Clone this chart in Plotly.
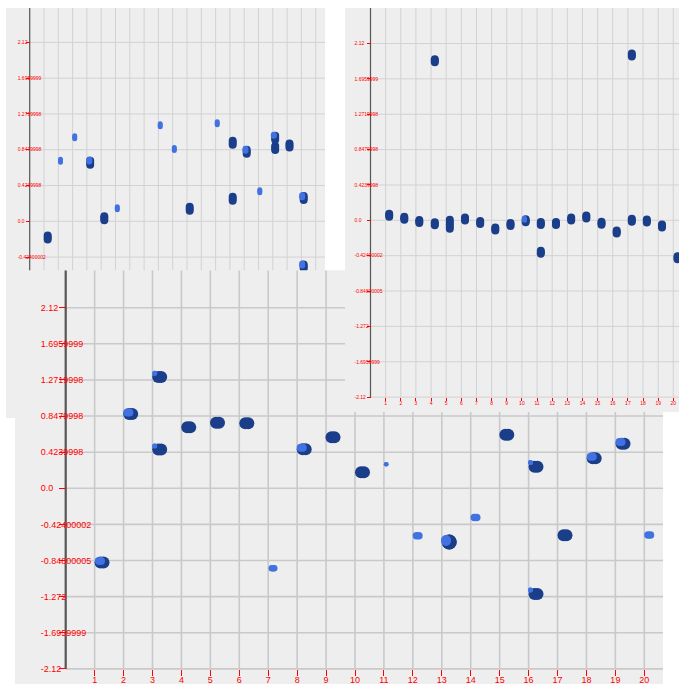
import math
import plotly.graph_objects as go

W, H = 679, 684

# ---------------- data ----------------
Y_TICK_VALUES = [-2.12, -1.6959999, -1.272, -0.84800005, -0.42400002, 0.0,
                 0.4239998, 0.8479998, 1.2719998, 1.6959999, 2.12]
Y_TICK_LABELS = ["-2.12", "-1.6959999", "-1.272", "-0.84800005", "-0.42400002", "0.0",
                 "0.4239998", "0.8479998", "1.2719998", "1.6959999", "2.12"]
X_CATEGORIES = list(range(1, 21))
X_TICK_LABELS = [str(c) for c in X_CATEGORIES]

# top-left panel
TL_DARK_X = [1.259, 4.231, 5.217, 11.189, 14.196, 14.196, 15.175, 17.168, 17.168, 18.168, 19.161, 19.161]
TL_DARK_Y = [-0.192, 0.693, 0.037, 0.148, 0.931, 0.267, 0.823, 0.989, 0.868, 0.898, 0.276, -0.536]
TL_LIGHT_X = [2.154, 3.147, 4.168, 6.126, 9.126, 10.112, 13.112, 15.09, 16.091, 17.07, 19.056, 19.056]
TL_LIGHT_Y = [0.718, 0.996, 0.720, 0.154, 1.139, 0.857, 1.162, 0.847, 0.355, 1.019, 0.296, -0.512]

# top-right panel
TR_DARK_X = [1.235, 2.232, 3.223, 4.247, 4.247, 5.238, 6.242, 7.245, 8.243, 9.247, 10.251, 11.249,
             11.249, 12.252, 13.256, 14.254, 15.258, 16.261, 17.259, 17.259, 18.25, 19.254, 20.28]
TR_DARK_Y = [0.060, 0.024, -0.014, 1.912, -0.041, -0.047, 0.016, -0.026, -0.104, -0.050, -0.005, -0.038,
             -0.382, -0.038, 0.016, 0.040, -0.036, -0.140, 1.982, 0.0, -0.008, -0.068, -0.448]
TR_LIGHT_X = [10.172]
TR_LIGHT_Y = [0.012]

# bottom panel
B_DARK_X = [1.255, 2.247, 3.249, 3.249, 4.252, 5.247, 6.26, 8.244, 9.239, 10.259, 13.256,
            15.247, 16.256, 16.256, 17.259, 18.268, 19.264]
B_DARK_Y = [-0.871, 0.872, 1.306, 0.455, 0.717, 0.769, 0.764, 0.458, 0.600, 0.188, -0.630,
            0.629, 0.254, -1.241, -0.550, 0.352, 0.523]
B_LIGHT_X = [1.186, 2.164, 3.076, 3.076, 7.166, 8.158, 11.078, 12.167, 13.146, 14.165,
             16.066, 16.066, 18.182, 19.177, 20.17]
B_LIGHT_Y = [-0.853, 0.890, 1.350, 0.496, -0.939, 0.475, 0.282, -0.558, -0.613, -0.343,
             0.303, -1.194, 0.370, 0.543, -0.548]

# ---------------- styles: blob sizes in px (width, height) ----------------
TL_DARK_WH = [(8, 12)] * len(TL_DARK_X)
TL_LIGHT_WH = [(5, 8), (5, 8), (6, 8), (5, 8), (5, 8), (5, 8), (5, 8), (6, 8), (5, 8), (6, 7), (6, 8), (6, 8)]
TR_DARK_WH = [(8, 11)] * len(TR_DARK_X)
TR_DARK_WH[5] = (8, 17)
TR_LIGHT_WH = [(5, 7)]
B_DARK_WH = [(15, 12)] * len(B_DARK_X)
B_DARK_WH[10] = (15, 15)
B_LIGHT_WH = [(10, 8), (10, 8), (5, 5), (5, 5), (9, 6.5), (10, 8), (5, 4.5), (10, 7.5), (10, 11),
              (10, 7.5), (5, 5), (5, 5), (10, 8), (10, 8), (10, 7.5)]

DARK = "#1a3e8a"
LIGHT = "#4272e2"
BG = "#eeeeee"
FONT = "Liberation Sans, Arial, sans-serif"

# ---------------- panel geometry (page pixels) ----------------
PANELS = [
    dict(name="", left=6, right=325, top=8, bottom=418, x0=29.7, sx=14.3, y0=221.3, sy=84.4,
         grid="#d2d2d2", gw=1, axw=1.2, font=5, ticklen=4, standoff=-16, xlab=False, xstand=-2,
         dark=(TL_DARK_X, TL_DARK_Y, TL_DARK_WH), light=(TL_LIGHT_X, TL_LIGHT_Y, TL_LIGHT_WH)),
    dict(name="2", left=15, right=663, top=270.5, bottom=684, x0=65.7, sx=28.93, y0=488.3, sy=85.2,
         grid="#c9c9c9", gw=1.6, axw=2.2, font=9, ticklen=7, standoff=-29, xlab=True, xstand=-4,
         dark=(B_DARK_X, B_DARK_Y, B_DARK_WH), light=(B_LIGHT_X, B_LIGHT_Y, B_LIGHT_WH)),
    dict(name="3", left=345, right=679, top=8, bottom=412, x0=370.5, sx=15.14, y0=220.3, sy=83.4,
         grid="#d2d2d2", gw=1, axw=1.2, font=5, ticklen=4, standoff=-20, xlab=True, xstand=-2,
         dark=(TR_DARK_X, TR_DARK_Y, TR_DARK_WH), light=(TR_LIGHT_X, TR_LIGHT_Y, TR_LIGHT_WH)),
]


def fx(px):  # page px -> paper fraction (x)
    return min(1.0, max(0.0, px / W))


def fy(py):  # page px -> paper fraction (y)
    return min(1.0, max(0.0, 1 - py / H))


fig = go.Figure()
shapes = []
layout = {}


def pill_trace(xs, ys, whs, color, p, xr, yr):
    """Each blob is a rounded pill made of a few overlapping circles."""
    px_, py_, sz = [], [], []
    for x, y, (w, h) in zip(xs, ys, whs):
        d = min(w, h)
        span = abs(w - h)
        k = max(2, int(math.ceil(span / (d * 0.35))) + 1)
        for i in range(k):
            t = (i / (k - 1) - 0.5) * span
            if w >= h:
                px_.append(x + t / p["sx"]); py_.append(y)
            else:
                px_.append(x); py_.append(y - t / p["sy"])
            sz.append(d)
    return go.Scatter(x=px_, y=py_, mode="markers", xaxis=xr, yaxis=yr,
                      marker=dict(size=sz, color=color, opacity=1, line=dict(width=0)),
                      hoverinfo="skip", showlegend=False)


for p in PANELS:
    n = p["name"]
    xr, yr = "x" + n, "y" + n
    xmin = (p["left"] - p["x0"]) / p["sx"]
    xmax = (p["right"] - p["x0"]) / p["sx"]
    ymin = (p["y0"] - p["bottom"]) / p["sy"]
    ymax = (p["y0"] - p["top"]) / p["sy"]
    ybot = min(Y_TICK_VALUES)

    layout["xaxis" + n] = dict(
        domain=[fx(p["left"]), fx(p["right"])], range=[xmin, xmax],
        anchor="free", position=fy(p["y0"] - ybot * p["sy"]),
        showgrid=False, zeroline=False, showline=False,
        tickvals=X_CATEGORIES, ticktext=X_TICK_LABELS,
        ticks="outside" if p["xlab"] else "", ticklen=p["ticklen"] - 1, tickcolor="red", tickwidth=1,
        showticklabels=p["xlab"], ticklabelstandoff=p["xstand"], ticklabeloverflow="allow",
        tickfont=dict(color="red", size=p["font"], family=FONT), fixedrange=True)
    layout["yaxis" + n] = dict(
        domain=[fy(p["bottom"]), fy(p["top"])], range=[ymin, ymax],
        anchor="free", position=fx(p["x0"]),
        showgrid=False, zeroline=False, showline=False,
        tickvals=Y_TICK_VALUES, ticktext=Y_TICK_LABELS,
        ticks="outside", ticklen=p["ticklen"], tickcolor="red", tickwidth=1,
        ticklabelposition="inside", ticklabelstandoff=p["standoff"], ticklabeloverflow="allow",
        tickfont=dict(color="red", size=p["font"], family=FONT), fixedrange=True)

    # panel background inside this subplot's own layer, so later panels cover earlier ones
    shapes.append(dict(type="rect", xref=xr, yref=yr, layer="below", x0=xmin - 1, x1=xmax + 1,
                       y0=ymin - 1, y1=ymax + 1, fillcolor=BG, line=dict(width=0)))
    for v in Y_TICK_VALUES:
        shapes.append(dict(type="line", xref=xr, yref=yr, layer="below", x0=0, x1=xmax + 1,
                           y0=v, y1=v, line=dict(color=p["grid"], width=p["gw"])))
    for c in X_CATEGORIES:
        shapes.append(dict(type="line", xref=xr, yref=yr, layer="below", x0=c, x1=c,
                           y0=ybot, y1=ymax + 1, line=dict(color=p["grid"], width=p["gw"])))
    shapes.append(dict(type="line", xref=xr, yref=yr, layer="below", x0=0, x1=0,
                       y0=ybot, y1=ymax + 1, line=dict(color="#555555", width=p["axw"])))

    dx, dy, dwh = p["dark"]
    lx, ly, lwh = p["light"]
    fig.add_trace(pill_trace(dx, dy, dwh, DARK, p, xr, yr))
    fig.add_trace(pill_trace(lx, ly, lwh, LIGHT, p, xr, yr))

fig.update_layout(width=W, height=H, autosize=False, margin=dict(l=0, r=0, t=0, b=0, pad=0),
                  paper_bgcolor="white", plot_bgcolor=BG, showlegend=False, hovermode=False,
                  shapes=shapes, **layout)

fig.write_html("out.html", config={"displayModeBar": False, "responsive": False},
               post_script="document.body.style.margin='0px';"
                           "document.body.style.overflow='hidden';"
                           "document.documentElement.style.overflow='hidden';")
